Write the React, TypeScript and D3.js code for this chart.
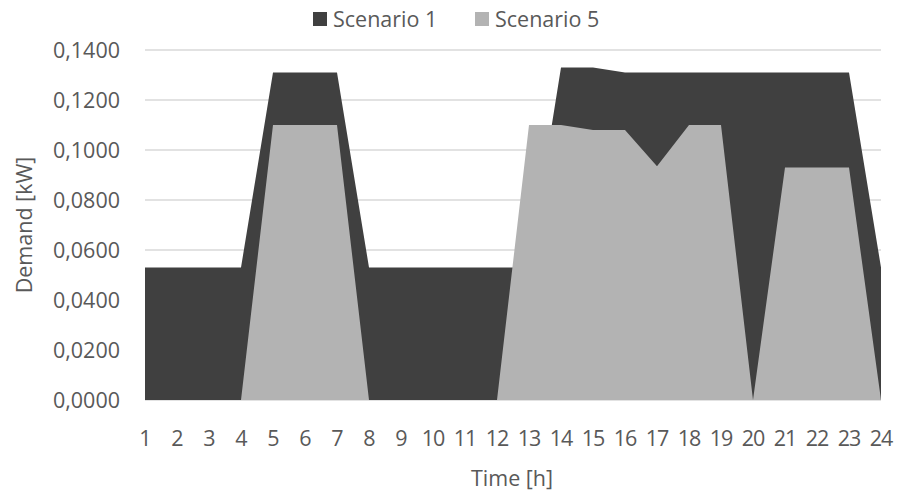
import React from "react";
import * as d3 from "d3";

const hours = d3.range(1, 25).map(String);
const scenario1 = [
  0.053, 0.053, 0.053, 0.053, 0.131, 0.131, 0.131, 0.053, 0.053, 0.053, 0.053, 0.053,
  0.053, 0.133, 0.133, 0.131, 0.131, 0.131, 0.131, 0.131, 0.131, 0.131, 0.131, 0.053,
];
const scenario5 = [
  0, 0, 0, 0, 0.11, 0.11, 0.11, 0, 0, 0, 0, 0,
  0.11, 0.11, 0.108, 0.108, 0.0935, 0.11, 0.11, 0, 0.093, 0.093, 0.093, 0,
];
const yTicks = [0, 0.02, 0.04, 0.06, 0.08, 0.1, 0.12, 0.14];
const seriesNames = ["Scenario 1", "Scenario 5"];
const seriesColors = ["#404040", "#b3b3b3"];

const W = 898;
const H = 493;
const left = 145;
const right = 881;
const top = 50;
const bottom = 400;
const FONT = "'Open Sans', 'Noto Sans', sans-serif";
const TEXT = "#595959";
const FS = 21.5;

export default function App() {
  const x = d3.scalePoint<string>().domain(hours).range([left, right]);
  const y = d3.scaleLinear().domain([0, 0.14]).range([bottom, top]);
  const area = d3
    .area<number>()
    .x((_, i) => x(hours[i]) as number)
    .y0(y(0))
    .y1((d) => y(d));
  const fmt = (v: number) => v.toFixed(4).replace(".", ",");

  return (
    <svg width={W} height={H} style={{ position: "absolute", left: 0, top: 0, background: "#fff" }} fontFamily={FONT}>
      {yTicks.map((t) => (
        <line key={t} x1={left} x2={right} y1={y(t)} y2={y(t)} stroke="#d9d9d9" strokeWidth={1.3} />
      ))}
      <path d={area(scenario1) ?? ""} fill={seriesColors[0]} />
      <path d={area(scenario5) ?? ""} fill={seriesColors[1]} />
      {yTicks.map((t) => (
        <text key={t} x={120} y={y(t)} dy="0.35em" textAnchor="end" fontSize={FS} fill={TEXT}>
          {fmt(t)}
        </text>
      ))}
      {hours.map((h) => (
        <text key={h} x={x(h)} y={438} dy="0.35em" textAnchor="middle" fontSize={FS} fill={TEXT} letterSpacing={-1}>
          {h}
        </text>
      ))}
      <text x={512} y={478} dy="0.35em" textAnchor="middle" fontSize={FS} fill={TEXT}>
        Time [h]
      </text>
      <text transform={`translate(24,${225}) rotate(-90)`} dy="0.35em" textAnchor="middle" fontSize={FS} fill={TEXT}>
        Demand [kW]
      </text>
      {seriesNames.map((n, i) => (
        <g key={n} transform={`translate(${313 + i * 162},12)`}>
          <rect width={14} height={14} fill={seriesColors[i]} />
          <text x={20} y={7} dy="0.35em" fontSize={FS} fill={TEXT}>
            {n}
          </text>
        </g>
      ))}
    </svg>
  );
}
